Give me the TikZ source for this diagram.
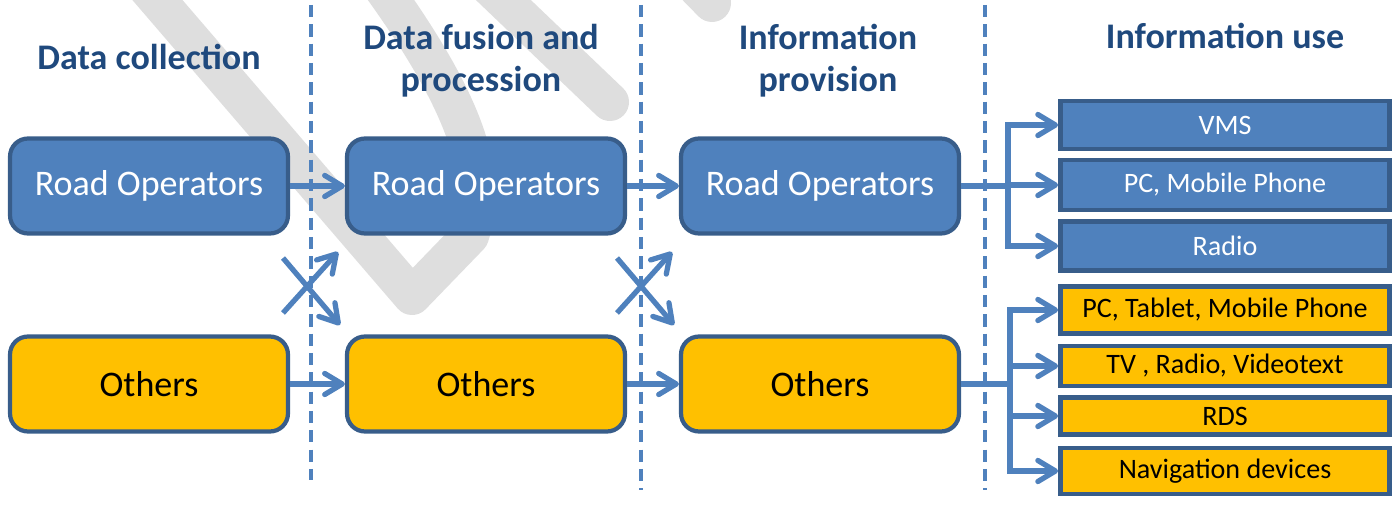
\documentclass[tikz,border=0pt]{standalone}
\usepackage{fontspec}
\setmainfont{Carlito}
\usetikzlibrary{arrows.meta,positioning}
\definecolor{boxblue}{HTML}{4F81BD}
\definecolor{boxedge}{HTML}{385D8A}
\definecolor{boxorange}{HTML}{FFC000}
\definecolor{headblue}{HTML}{1F497D}
\definecolor{markgray}{HTML}{DEDEDE}

\begin{document}
\begin{tikzpicture}[x=0.02cm,y=-0.02cm,
stage/.style={rounded corners=0.36cm,draw=boxedge,line width=2.4pt,minimum width=5.56cm,minimum height=1.9cm,font=\fontsize{20.5}{24}\selectfont},
road/.style={stage,fill=boxblue,text=white},
other/.style={stage,fill=boxorange,text=black},
use/.style={draw=boxedge,line width=2.8pt,minimum width=6.58cm,inner sep=0pt,font=\fontsize{16}{19}\selectfont},
head/.style={text=headblue,align=center,font=\bfseries\fontsize{20.5}{24}\selectfont},
flow/.style={draw=boxblue,line width=3pt,-{Straight Barb[length=10pt,width=12pt,round]}},
feed/.style={draw=boxblue,line width=3pt},
sep/.style={draw=boxblue,line width=2pt,dash pattern=on 7pt off 4pt},
watermark/.style={draw=markgray,line width=0.76cm,line cap=round,line join=round}]
\useasboundingbox (0,0) rectangle (1400,506);

% watermark
\draw[watermark] (123,-40) -- (412,296) -- (470,236) .. controls (488,180) and (475,110) .. (362,-40);
\draw[watermark] (472,-30) -- (610,102);
\draw[watermark] (670,-40) -- (712,3);

% column separators
\draw[sep] (311,5) -- (311,480);
\draw[sep] (641,5) -- (641,490);
\draw[sep] (985,5) -- (985,490);

% headings
\node[head] (h1) at (149,57) {Data collection};
\node[head] (h2) at (481,61) {Data fusion and\\procession};
\node[head] (h3) at (828,61) {Information\\provision};
\node[head] (h4) at (1225,36) {Information use};

% stages
\node[road] (ro1) at (149,186) {Road Operators};
\node[road] (ro2) at (486,186) {Road Operators};
\node[road] (ro3) at (820,186) {Road Operators};
\node[other] (ot1) at (149,384) {Others};
\node[other] (ot2) at (486,384) {Others};
\node[other] (ot3) at (820,384) {Others};

% information use
\node[use,fill=boxblue,text=white,minimum height=0.96cm] (vms) at (1225,125) {VMS};
\node[use,fill=boxblue,text=white,minimum height=1cm] (pc) at (1225,185) {PC, Mobile Phone};
\node[use,fill=boxblue,text=white,minimum height=0.98cm] (radio) at (1225,246) {Radio};
\node[use,fill=boxorange,minimum height=0.94cm] (tablet) at (1225,310) {PC, Tablet, Mobile Phone};
\node[use,fill=boxorange,minimum height=0.8cm] (tv) at (1225,366) {TV , Radio, Videotext};
\node[use,fill=boxorange,minimum height=0.74cm] (rds) at (1225,416) {RDS};
\node[use,fill=boxorange,minimum height=0.92cm] (nav) at (1225,471) {Navigation devices};

\draw[flow] (ro1) -- (ro2);
\draw[flow] (ro2) -- (ro3);
\draw[flow] (ot1) -- (ot2);
\draw[flow] (ot2) -- (ot3);

% crossing arrows
\foreach \x/\n in {283/a,617/b} {
  \coordinate (lo\n) at (\x,313);
  \coordinate (hi\n) at (\x,258);
  \draw[flow] (lo\n) -- ++(55,-61);
  \draw[flow] (hi\n) -- ++(57,67);
}

\coordinate (fork1) at (1008,186);
\coordinate (fork2) at (1010,384);
\draw[feed] (ro3) -- (fork1);
\draw[feed] (ot3) -- (fork2);
\foreach \n in {vms,pc,radio} \draw[flow] (fork1) |- (\n.west);
\foreach \n in {tablet,tv,rds,nav} \draw[flow] (fork2) |- (\n.west);

\end{tikzpicture}
\end{document}
